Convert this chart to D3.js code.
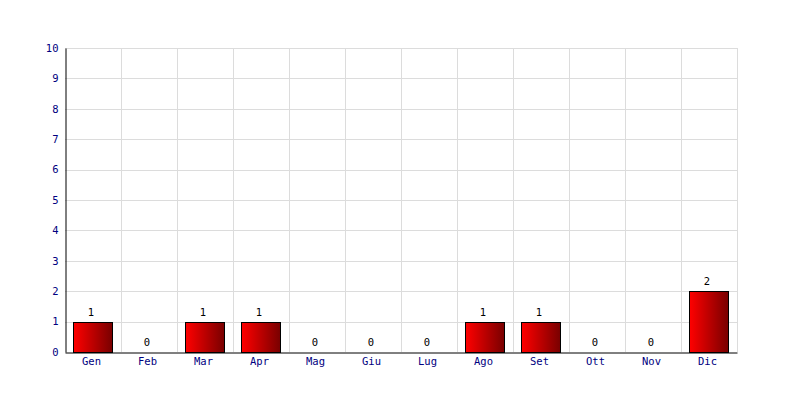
<!DOCTYPE html>
<html><head><meta charset="utf-8">
<script src="https://cdn.jsdelivr.net/npm/d3@7"></script>
<style>body{margin:0;background:#fff}</style>
</head><body><svg id="c" width="800" height="400"></svg>
<script>
const months = ["Gen","Feb","Mar","Apr","Mag","Giu","Lug","Ago","Set","Ott","Nov","Dic"];
const values = [1,0,1,1,0,0,0,1,1,0,0,2];
const yTicks = [0,1,2,3,4,5,6,7,8,9,10];

const svg = d3.select("#c");
const L=65, R=737, T=48, B=352;
const x = d3.scaleBand().domain(months).range([L,R]).paddingInner(0.3).paddingOuter(0.15);
const xg = d3.scaleBand().domain(months).range([L,R]);
const y = d3.scaleLinear().domain([0,10]).range([B,T]);
const font = "'DejaVu Sans Mono', monospace";
const rows = values.map((v,i)=>({m:months[i],v}));

const defs = svg.append("defs");
const grad = defs.append("linearGradient").attr("id","g").attr("x1","0").attr("x2","1").attr("y1","0").attr("y2","0");
grad.append("stop").attr("offset","0").attr("stop-color","#ff0000");
grad.append("stop").attr("offset","1").attr("stop-color","#780000");

// grid
svg.append("g").selectAll("line").data(yTicks.filter(d=>d>0)).join("line")
  .attr("x1",L).attr("x2",R).attr("y1",d=>Math.round(y(d))+0.5).attr("y2",d=>Math.round(y(d))+0.5)
  .attr("stroke","#dcdcdc");
svg.append("g").selectAll("line").data(months).join("line")
  .attr("x1",d=>Math.round(xg(d)+xg.bandwidth())+0.5).attr("x2",d=>Math.round(xg(d)+xg.bandwidth())+0.5)
  .attr("y1",T).attr("y2",B).attr("stroke","#dcdcdc");

// bars
svg.append("g").selectAll("rect").data(rows.filter(d=>d.v>0)).join("rect")
  .attr("x",d=>Math.floor(x(d.m))+0.5).attr("width",Math.floor(x.bandwidth()))
  .attr("y",d=>Math.round(y(d.v))+0.5).attr("height",d=>Math.round(B-y(d.v)))
  .attr("fill","url(#g)").attr("stroke","#000");

// value labels
svg.append("g").selectAll("text").data(rows).join("text")
  .attr("x",d=>x(d.m)+x.bandwidth()/2-2).attr("y",d=>y(d.v)-6)
  .attr("text-anchor","middle").attr("font-family",font).attr("font-size",10.5).attr("fill","#000")
  .text(d=>d.v);

// axes
const ya = svg.append("g").attr("transform",`translate(${L+0.5},0)`)
  .call(d3.axisLeft(y).tickValues(yTicks).tickSize(0).tickPadding(7));
ya.select(".domain").attr("stroke","#000");
ya.selectAll("text").attr("font-family",font).attr("font-size",10.5).attr("fill","#000080");
const xa = svg.append("g").attr("transform",`translate(0,${B+0.5})`)
  .call(d3.axisBottom(xg).tickSize(0).tickPadding(5));
xa.select(".domain").attr("stroke","#000");
xa.selectAll("text").attr("font-family",font).attr("font-size",10.5).attr("fill","#000080").attr("dx",-1.5);
</script></body></html>
